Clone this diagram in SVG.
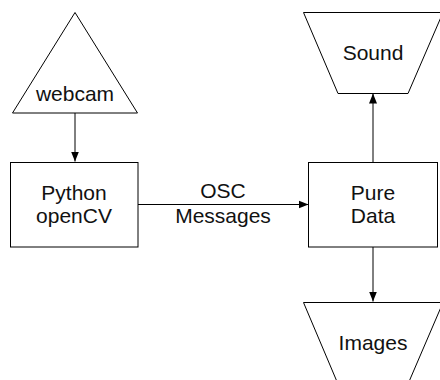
<svg xmlns="http://www.w3.org/2000/svg" width="440" height="380" viewBox="0 0 440 380">
<style>
.shape{fill:#fff;stroke:#000;stroke-width:1}
.lbl{font-family:"Liberation Sans",Arial,sans-serif;font-size:21px;fill:#111;text-anchor:middle}
.conn{stroke:#000;stroke-width:1;fill:none;marker-end:url(#arr)}
</style>
<defs>
<marker id="arr" viewBox="0 0 10 10" refX="10" refY="5" markerWidth="10" markerHeight="10" markerUnits="userSpaceOnUse" orient="auto">
<path d="M0,1 L10,5 L0,9 Z" fill="#000"/>
</marker>
</defs>
<rect width="440" height="380" fill="#fff"/>
<g id="connectors">
<line class="conn" x1="75" y1="113" x2="75" y2="161.5"/>
<line class="conn" x1="138" y1="204.5" x2="308.5" y2="204.5"/>
<line class="conn" x1="373" y1="162" x2="373" y2="93.5"/>
<line class="conn" x1="373" y1="247" x2="373" y2="301.5"/>
</g>
<g id="webcam">
<polygon class="shape" points="75,12.5 12.5,113 137.5,113"/>
<text class="lbl" x="75" y="101">webcam</text>
</g>
<g id="python">
<rect class="shape" x="10.5" y="162.5" width="127.5" height="84.5"/>
<text class="lbl" x="74" y="200">Python</text>
<text class="lbl" x="74" y="223">openCV</text>
</g>
<g id="osc-label">
<text class="lbl" x="223" y="198">OSC</text>
<text class="lbl" x="223" y="223">Messages</text>
</g>
<g id="puredata">
<rect class="shape" x="308.5" y="162.5" width="129" height="84.5"/>
<text class="lbl" x="373" y="200">Pure</text>
<text class="lbl" x="373" y="223">Data</text>
</g>
<g id="sound">
<polygon class="shape" points="303.5,12.5 443,12.5 408,93.5 338,93.5"/>
<text class="lbl" x="373" y="60">Sound</text>
</g>
<g id="images">
<polygon class="shape" points="303.5,302.5 443,302.5 408,384 338,384"/>
<text class="lbl" x="373" y="350">Images</text>
</g>
</svg>
